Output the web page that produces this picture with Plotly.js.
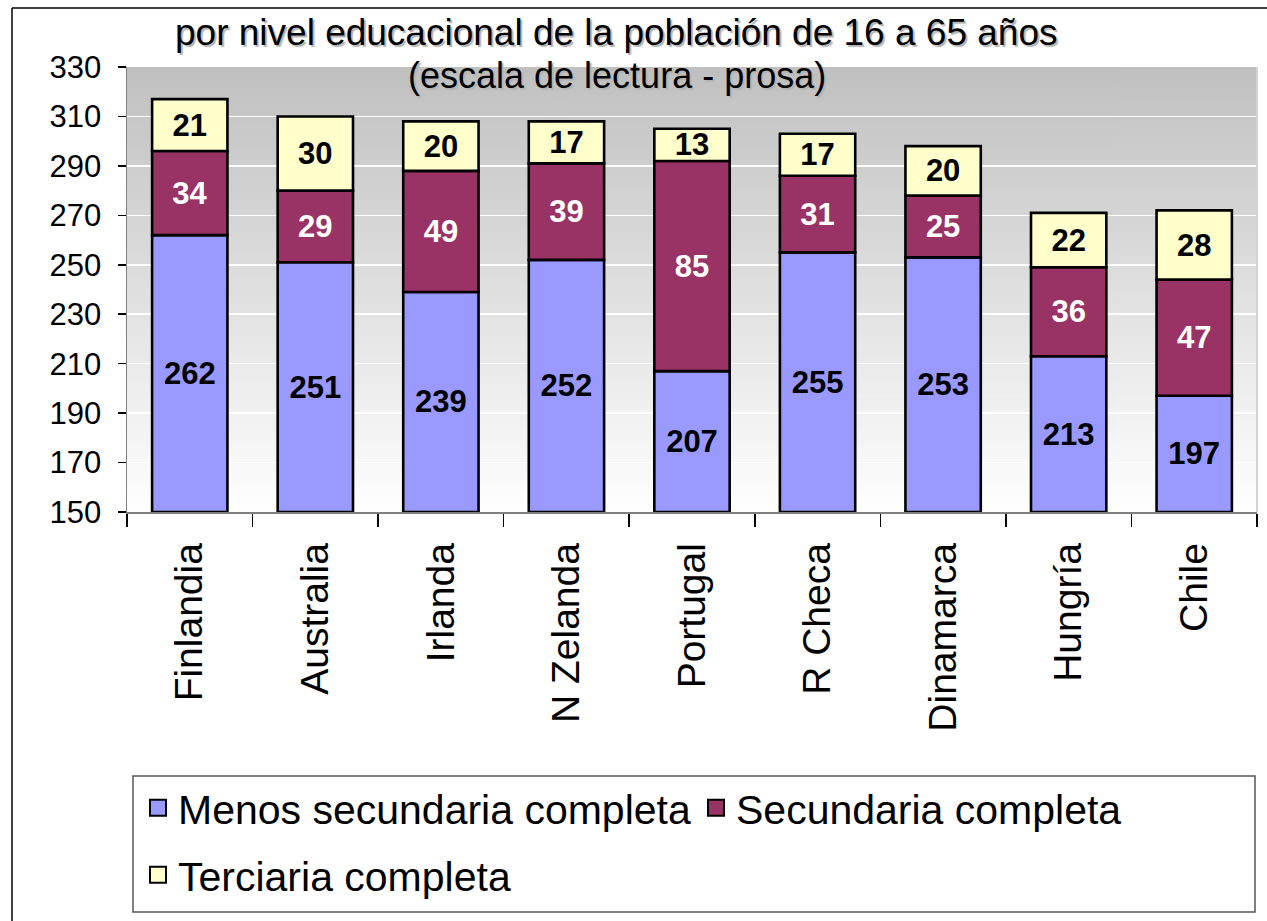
<!DOCTYPE html>
<html><head><meta charset="utf-8">
<script src="https://cdn.plot.ly/plotly-3.0.1.min.js"></script>
<style>html,body{margin:0;padding:0;background:#fff}#chart{width:1267px;height:921px}</style>
</head><body><div id="chart"></div>
<script>
// ---- data ----
const paises = ["Finlandia","Australia","Irlanda","N Zelanda","Portugal","R Checa","Dinamarca","Hungría","Chile"];
const menosSecundaria = [262,251,239,252,207,255,253,213,197];
const secundaria = [34,29,49,39,85,31,25,36,47];
const terciaria = [21,30,20,17,13,17,20,22,28];
const yTicks = [150,170,190,210,230,250,270,290,310,330];
const ejeMin = 150, ejeMax = 330;
const serieNombres = ["Menos secundaria completa","Secundaria completa","Terciaria completa"];
const titulo1 = "por nivel educacional de la población de 16 a 65 años";
const titulo2 = "(escala de lectura - prosa)";

// ---- layout geometry ----
const W = 1267, H = 921, ML = 127, MR = 10, MT = 67, MB = 409;
const PW = W - ML - MR, PH = H - MT - MB;
const px2x = p => (p - ML) / PW;
const py2y = p => (H - MB - p) / PH;
const FONT = "Liberation Sans, Arial, sans-serif";
const colores = ["#9999ff", "#993366", "#ffffcc"];
const textoColores = ["#000000", "#ffffff", "#000000"];

// gradient background image
const cv = document.createElement("canvas");
cv.width = 4; cv.height = 256;
const cx = cv.getContext("2d");
const g = cx.createLinearGradient(0, 0, 0, 256);
g.addColorStop(0, "#c0c0c0");
g.addColorStop(1, "#ffffff");
cx.fillStyle = g; cx.fillRect(0, 0, 4, 256);
const gradURL = cv.toDataURL();

const base2 = menosSecundaria.slice();
const base3 = menosSecundaria.map((v, i) => v + secundaria[i]);
const segs = [
  {vals: menosSecundaria, base: paises.map(() => ejeMin), size: menosSecundaria.map(v => v - ejeMin)},
  {vals: secundaria, base: base2, size: secundaria},
  {vals: terciaria, base: base3, size: terciaria}
];

const traces = segs.map((s, k) => ({
  type: "bar",
  x: paises,
  y: s.size,
  base: s.base,
  name: serieNombres[k],
  text: s.vals.map(String),
  textposition: "inside",
  insidetextanchor: "middle",
  constraintext: "none",
  textangle: 0,
  textfont: {family: FONT, size: 31, color: textoColores[k], weight: "bold"},
  marker: {color: colores[k], line: {color: "#000000", width: 2.6}},
  showlegend: false,
  hoverinfo: "skip"
}));

// legend entries
serieNombres.forEach((n, k) => {
  traces.push({
    type: "scatter", mode: "markers",
    x: [paises[0]], y: [null],
    name: n,
    legend: k < 2 ? "legend" : "legend2",
    marker: {symbol: "square", size: 16, color: colores[k], line: {color: "#000", width: 2}},
    showlegend: true, hoverinfo: "skip"
  });
});

const legendBase = {
  orientation: "h", xanchor: "left", yanchor: "middle",
  bgcolor: "rgba(0,0,0,0)", borderwidth: 0,
  font: {family: FONT, size: 41, color: "#000"},
  itemclick: false, itemdoubleclick: false
};

const shapes = [
  // outer frame
  {type: "line", xref: "paper", yref: "paper", x0: px2x(12), x1: px2x(12), y0: py2y(8), y1: py2y(H + 10), line: {color: "#000", width: 1.5}},
  {type: "line", xref: "paper", yref: "paper", x0: px2x(12), x1: px2x(W + 10), y0: py2y(8), y1: py2y(8), line: {color: "#000", width: 1.5}},
  // right edge of plot area
  {type: "line", xref: "paper", yref: "paper", x0: 1, x1: 1, y0: 0, y1: 1, line: {color: "#d4d4d4", width: 2}},
  // legend box
  {type: "rect", xref: "paper", yref: "paper", x0: px2x(133), x1: px2x(1255), y0: py2y(912), y1: py2y(776), line: {color: "#555", width: 1.5}, fillcolor: "rgba(0,0,0,0)"}
];

const layout = {
  width: W, height: H,
  margin: {l: ML, r: MR, t: MT, b: MB, pad: 0},
  paper_bgcolor: "#ffffff",
  plot_bgcolor: "rgba(0,0,0,0)",
  barmode: "overlay",
  bargap: 0.4,
  font: {family: FONT, color: "#000"},
  images: [{source: gradURL, xref: "paper", yref: "paper", x: 0, y: 1, sizex: 1, sizey: 1, sizing: "stretch", xanchor: "left", yanchor: "top", layer: "below"}],
  xaxis: {
    type: "category", range: [-0.5, paises.length - 0.5],
    showline: true, linecolor: "#808080", linewidth: 1.5,
    ticks: "outside", tickson: "boundaries", ticklen: 13, tickwidth: 1.5, tickcolor: "#000",
    tickangle: -90, ticklabelstandoff: 14,
    tickfont: {family: FONT, size: 39, color: "#000"},
    showgrid: false, zeroline: false, fixedrange: true
  },
  yaxis: {
    range: [ejeMin, ejeMax], tickvals: yTicks, ticktext: yTicks.map(String),
    showline: true, linecolor: "#808080", linewidth: 1.5,
    ticks: "outside", ticklen: 8, tickwidth: 1.5, tickcolor: "#000",
    ticklabelstandoff: 10,
    tickfont: {family: FONT, size: 31, color: "#000"},
    showgrid: true, gridcolor: "#ffffff", gridwidth: 1.5,
    zeroline: false, fixedrange: true
  },
  legend: Object.assign({}, legendBase, {x: px2x(138), y: py2y(808)}),
  legend2: Object.assign({}, legendBase, {x: px2x(138), y: py2y(875)}),
  shapes: shapes,
  annotations: [
    {text: titulo1, xref: "paper", yref: "paper", x: px2x(616), y: py2y(32), xanchor: "center", yanchor: "middle", showarrow: false,
     font: {family: FONT, size: 37, color: "#000", shadow: "2px 2px 1px #b4b4b4"}},
    {text: titulo2, xref: "paper", yref: "paper", x: px2x(617), y: py2y(76), xanchor: "center", yanchor: "middle", showarrow: false,
     font: {family: FONT, size: 36, color: "#000", shadow: "2px 2px 1px #b4b4b4"}}
  ],
  showlegend: true
};

Plotly.newPlot("chart", traces, layout, {displayModeBar: false, staticPlot: true});
</script>
</body></html>
